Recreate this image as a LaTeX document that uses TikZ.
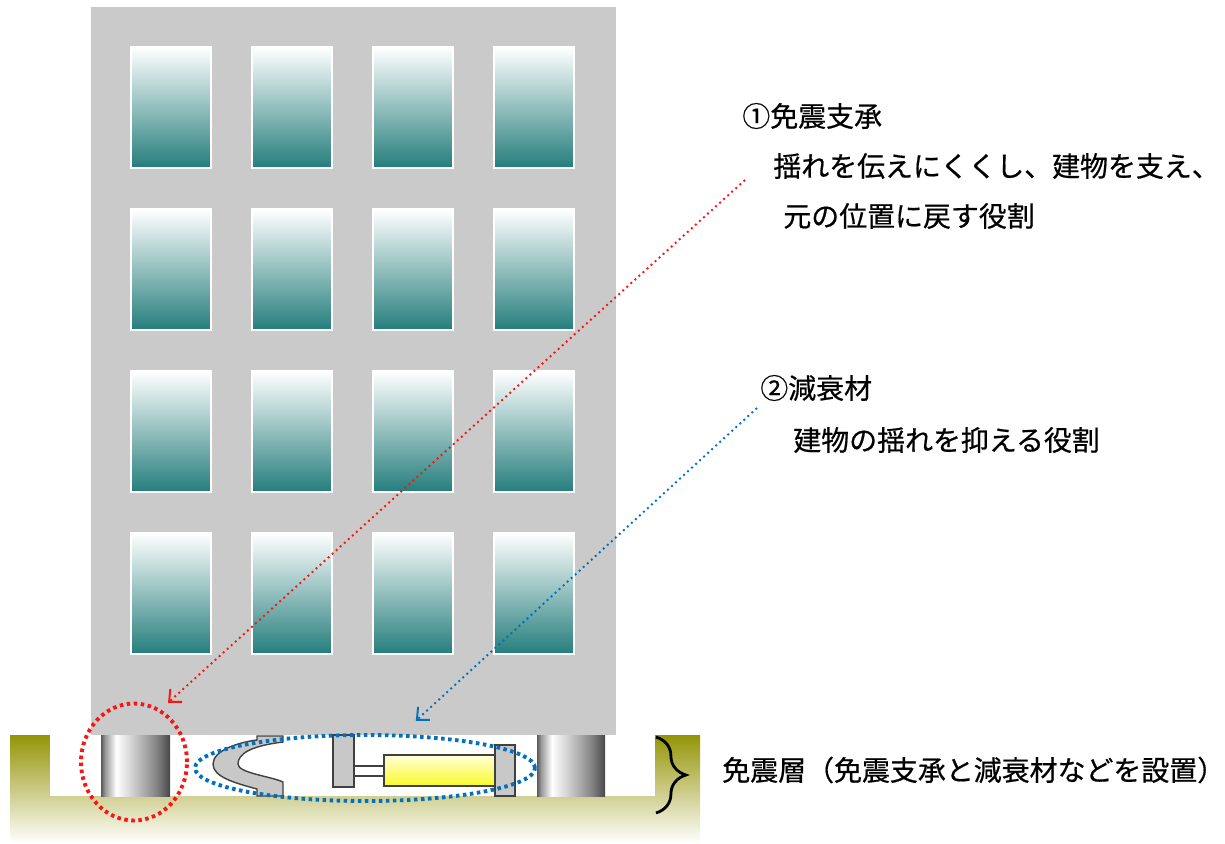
\documentclass[tikz,border=0pt]{standalone}
\usepackage{fontspec}
\setmainfont{Noto Sans CJK JP}[FakeBold=0.6]
\usetikzlibrary{arrows.meta,shapes.geometric,decorations.pathreplacing}

\definecolor{wallgray}{RGB}{202,202,202}
\definecolor{paneteal}{RGB}{36,126,124}
\definecolor{groundolive}{RGB}{148,148,8}
\definecolor{partgray}{RGB}{200,200,200}
\definecolor{oilyellow}{RGB}{250,250,40}
\definecolor{markred}{RGB}{250,20,20}
\definecolor{markblue}{RGB}{0,112,192}

% the path is fitted to the middle 50bp of a shading
\pgfdeclarehorizontalshading{bearing}{100bp}{color(0bp)=(black!65); color(25bp)=(black!65);
    color(28bp)=(black!40); color(36bp)=(white); color(50bp)=(black!22);
    color(66bp)=(black!50); color(75bp)=(black!72); color(100bp)=(black!72)}

\tikzset{
  pane/.style={top color=white, bottom color=paneteal, draw=white, line width=0.6pt},
  part/.style={fill=partgray, draw=black!75, line width=0.8pt},
  ring/.style={ellipse, draw, line width=2.2pt, dash pattern=on 2pt off 2pt, inner sep=0},
  pointer/.style={dotted, line width=1.1pt, -{Straight Barb[length=5.5pt,width=10pt]}},
  note/.style={anchor=west, inner sep=0, font=\fontsize{15.9}{18}\selectfont}
}

\begin{document}
\begin{tikzpicture}[x=0.02cm, y=-0.02cm]
    \useasboundingbox (0,0) rectangle (1225,843);

    % ground with the isolation layer
    \shade[top color=groundolive, bottom color=white] (10,735) rectangle (700,843);
    \fill[white] (50,735) rectangle (655,796);

    % building
    \fill[wallgray] (91,7) rectangle (616,735);
    \foreach \c in {0,...,3}
        \foreach \r in {0,...,3}
            \shade[pane] (131+121*\c,47+162*\r) rectangle ++(80,121);

    % bearings
    \shade[shading=bearing] (101,735) rectangle (170,796);
    \shade[shading=bearing] (537,735) rectangle (605,796);

    % steel damper
    \draw[part] (257,736) -- (283,736) -- (283,742)
        .. controls (250,746) and (238,754) .. (238,764)
        .. controls (238,773) and (270,776) .. (283,782) -- (283,796) -- (257,796) -- (257,789)
        .. controls (235,783) and (213,777) .. (213,764)
        .. controls (213,750) and (240,742) .. (257,740) -- cycle;

    % oil damper
    \draw[part] (333,735) rectangle (354,787);
    \draw[fill=white, draw=black!75, line width=0.8pt] (354,766) rectangle (384,776);
    \shade[top color=yellow!15!white, middle color=oilyellow, bottom color=oilyellow,
        draw=black!75, line width=0.8pt] (384,755) rectangle (495,786);
    \draw[part] (495,745) rectangle (515,796);

    \node[ring, draw=markred, minimum width=2.12cm, minimum height=2.34cm] (bearingring) at (134,762) {};
    \node[ring, draw=markblue, minimum width=6.8cm, minimum height=1.32cm] (damperring) at (365,768) {};

    \node[note] (bearingtitle) at (742,116) {①免震支承};
    \node[note] (bearingtext) at (773,166) {揺れを伝えにくくし、建物を支え、};
    \node[note] (bearingtext2) at (783,216) {元の位置に戻す役割};
    \node[note] (dampertitle) at (760,388) {②減衰材};
    \node[note] (dampertext) at (793,440) {建物の揺れを抑える役割};
    \node[note] (layertext) at (722,770) {免震層（免震支承と減衰材などを設置）};

    \coordinate (bearingfrom) at (745,180);
    \coordinate (damperfrom) at (757,408);
    \draw[pointer, markred, shorten >=5.5pt] (bearingfrom) -- (bearingring.63);
    \draw[pointer, markblue, shorten >=11pt] (damperfrom) -- (damperring.43);

    \coordinate (bracetop) at (656,737);
    \coordinate (bracebot) at (656,813);
    \draw[decorate, decoration={brace, amplitude=17pt}, line width=1.6pt] (bracetop) -- (bracebot);
\end{tikzpicture}
\end{document}
